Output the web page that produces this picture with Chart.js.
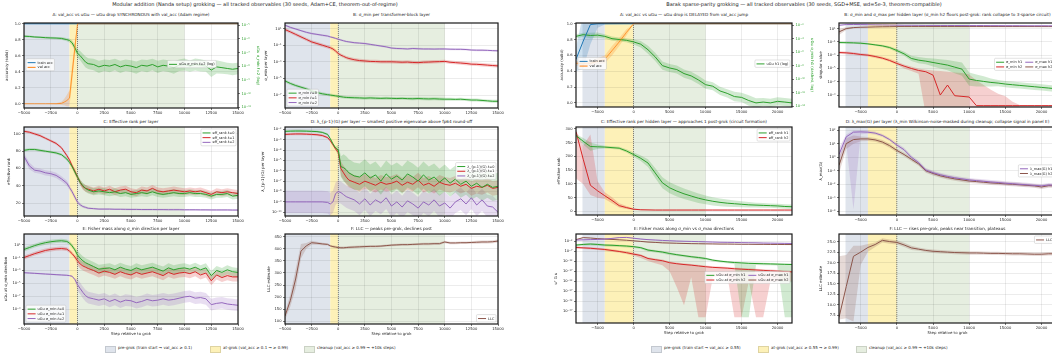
<!DOCTYPE html>
<html>
<head>
<meta charset="utf-8">
<script src="https://cdn.jsdelivr.net/npm/chart.js@4.4.1/dist/chart.umd.min.js"></script>
<style>
  body { margin: 0; width: 1052px; height: 362px; overflow: hidden; background: #fff; position: relative; color: #222; }
  canvas { position: absolute; }
  .lbl { position: absolute; white-space: nowrap; line-height: 1.2; font-family: 'DejaVu Sans', sans-serif; }
  .sw { position: absolute; width: 9px; height: 4.5px; border: 0.5px solid rgba(0,0,0,0.12); }
</style>
</head>
<body>
<script>
'use strict';

// ---------- data: modular addition (left block) ----------
const stepsL = [-5000,-4500,-4000,-3500,-3000,-2500,-2000,-1500,-1000,-750,-500,-250,0,250,500,750,1000,1500,2000,2500,3000,3500,4000,4500,5000,5500,6000,6500,7000,7500,8000,8500,9000,9500,10000,10500,11000,11500,12000,12500,13000,13500,14000,14500,15000];
const phaseEdgesL = [-5000, -750, 0, 10000];
const xTicksL = [-5000,-2500,0,2500,5000,7500,10000,12500,15000];

const accTrainStepsL = [-5000, 0, 15000];
const accTrainL = [1.0, 1.0, 1.0];
const accValStepsL = [-5000,-4000,-3000,-2000,-1500,-1250,-1000,-750,-500,-250,0,15000];
const accValL = [0.0,0.0,0.0,0.0,0.005,0.02,0.04,0.07,0.38,0.69,1.0,1.0];
const accValSdL = [0.0,0.0,0.0,0.005,0.02,0.04,0.07,0.1,0.12,0.08,0.0,0.0];
const uguL2 = [1.6e-6,1.53e-6,1.4e-6,1.34e-6,1.25e-6,1.2e-6,1.17e-6,1.1e-6,9.0e-7,7.8e-7,5.2e-7,2.3e-7,9.0e-8,6.0e-8,3.5e-8,2.05e-8,1.56e-8,1.36e-8,9.1e-9,1.19e-8,1.04e-8,1.36e-8,9.1e-9,1.19e-8,1.04e-8,8.0e-9,1.19e-8,1.04e-8,1.36e-8,9.1e-9,1.19e-8,1.04e-8,8.0e-9,1.19e-8,1.36e-8,1.04e-8,1.36e-8,1.19e-8,1.04e-8,5.3e-9,9.1e-9,8.0e-9,6.95e-9,6.1e-9,6.95e-9];
const uguL2F = [1.2,1.2,1.2,1.2,1.2,1.2,1.2,1.25,1.3,1.4,1.5,1.8,2,2.2,2.4,2.5,2.5,2.6,2.8,2.6,2.8,2.6,2.8,2.6,2.7,2.8,2.6,2.8,2.6,2.8,2.6,2.7,2.8,2.6,2.8,2.6,2.7,2.8,2.6,3.2,3.0,2.8,2.6,2.8,2.6];

const sigL0 = [5.0e-6,2.5e-6,1.41e-6,8.9e-7,5.6e-7,3.2e-7,2.0e-7,1.41e-7,1.12e-7,1.0e-7,8.9e-8,7.9e-8,7.1e-8,6.3e-8,5.6e-8,5.2e-8,5.0e-8,4.7e-8,4.5e-8,4.2e-8,4.5e-8,4.2e-8,4.0e-8,4.2e-8,4.0e-8,3.8e-8,4.0e-8,3.7e-8,3.55e-8,3.8e-8,3.55e-8,3.4e-8,3.55e-8,3.3e-8,3.16e-8,3.16e-8,3.0e-8,3.16e-8,2.8e-8,2.5e-8,2.5e-8,2.24e-8,2.0e-8,1.78e-8,1.78e-8];
const sigL1 = [7.6,4.0,2.0,1.0,0.5,0.25,0.158,0.1,0.063,0.05,0.035,0.02,0.01,6.3e-3,4.5e-3,3.2e-3,2.5e-3,1.78e-3,1.41e-3,1.26e-3,1.12e-3,1.07e-3,1.0e-3,1.0e-3,1.0e-3,9.5e-4,8.9e-4,9.3e-4,8.3e-4,7.9e-4,8.9e-4,9.3e-4,1.0e-3,1.05e-3,1.12e-3,8.9e-4,7.9e-4,7.1e-4,6.3e-4,5.2e-4,5.0e-4,4.5e-4,4.0e-4,3.55e-4,3.2e-4];
const sigL2 = [25.1,14.1,8.9,5.6,3.55,2.51,2.0,1.58,1.26,1.0,0.83,0.66,0.52,0.42,0.34,0.28,0.25,0.2,0.178,0.158,0.126,0.1,0.079,0.063,0.045,0.04,0.038,0.035,0.04,0.037,0.035,0.035,0.034,0.035,0.035,0.033,0.032,0.032,0.030,0.026,0.025,0.025,0.024,0.022,0.021];

const rankL0 = [81,82,82,81,80,79,78,76,71,67,62,56,50,44,40,37,35,33,34,33,32,33,31,32,30,31,32,31,33,31,30,31,32,31,31,32,31,31,30,28,30,30,31,28,29];
const rankL1 = [103,102,100,98,95,92,89,84,75,70,63,57,50,44,39,37,36,34,36,34,36,33,35,36,33,32,35,34,37,34,33,34,35,34,33,34,33,34,32,30,33,32,33,32,31];
const rankL2 = [74,63,58,57,55,54,52,48,43,38,33,27,21,18,16,15,14,13.5,13,13,13,12.8,12.8,12.7,12.6,12.6,12.5,12.5,12.5,12.4,12.4,12.3,12.3,12.3,12.2,12.2,12.2,12.1,12.1,12,12,12,12,11.9,11.9];
const rankSdL = [1.5,1.5,1.5,1.5,1.5,1.5,1.5,1.5,2,2,2.5,3,3,3,3.5,4,4,4,4,4,4,4,4,4,4,4,4,4,4,4,4,4,4,4,4,4,4,4,4,4,4,4,4,4,4];
const rankSdL2 = [4,4,3,3,3,3,3,3,3,3,3,3,2.5,2,1.5,1.5,1.2,1,1,1,1,1,1,1,1,1,1,1,1,1,1,1,1,1,1,1,1,1,1,1,1,1,1,1,1];

const lamL0 = [6.3e-3,6.6e-3,6.8e-3,6.8e-3,6.6e-3,6.3e-3,6.0e-3,5.0e-3,3.2e-3,1.26e-3,4.0e-4,1.58e-4,1.0e-4,2.5e-6,2.0e-6,1.26e-6,6.3e-7,3.2e-7,2.5e-7,6.3e-7,2.0e-7,4.0e-7,1.0e-7,5.0e-7,1.58e-7,3.2e-7,1.26e-7,5.0e-7,2.5e-7,1.0e-7,4.0e-7,1.26e-7,2.5e-7,7.9e-8,2.0e-7,6.3e-8,1.58e-7,5.0e-8,1.0e-7,3.2e-8,6.3e-8,2.5e-8,5.0e-8,2.5e-8,3.2e-8];
const lamL1 = [3.2e-3,3.4e-3,3.55e-3,3.55e-3,3.4e-3,3.2e-3,3.0e-3,2.5e-3,1.58e-3,7.9e-4,3.2e-4,1.26e-4,6.3e-5,1.58e-6,6.3e-7,2.5e-7,1.26e-7,7.9e-8,5.0e-8,1.0e-7,6.3e-8,4.0e-8,7.9e-8,5.0e-8,6.3e-8,1.0e-7,4.0e-8,7.9e-8,5.0e-8,1.26e-7,4.0e-8,6.3e-8,3.2e-8,7.9e-8,5.0e-8,4.0e-8,6.3e-8,3.2e-8,5.0e-8,2.0e-8,3.2e-8,2.5e-8,4.0e-8,2.0e-8,2.5e-8];
const lamL2 = [1e-9,1e-9,1e-9,1e-9,1e-9,1e-9,1e-9,1e-9,8.9e-10,6.3e-10,1.0e-9,6.3e-9,1.0e-8,7.9e-9,5.0e-9,3.2e-9,2.5e-9,1.58e-9,6.3e-10,2.0e-9,5.0e-10,1.58e-9,7.9e-10,2.5e-9,4.0e-10,1.0e-9,3.2e-10,1.26e-9,6.3e-10,2.5e-10,1.0e-9,5.0e-10,1.58e-9,4.0e-10,7.9e-10,2.5e-10,1.0e-9,2.0e-9,6.3e-10,2.5e-9,5.0e-10,1.58e-9,4.0e-10,3.2e-10,1.0e-10];
const lamL0F = [1.3,1.3,1.3,1.3,1.3,1.3,1.3,1.3,1.3,1.3,1.3,1.3,3,10,20,20,20,20,20,20,20,20,20,20,20,20,20,20,20,20,20,20,20,20,20,20,20,20,20,20,20,20,20,20,20];
const lamL1F = [1.3,1.3,1.3,1.3,1.3,1.3,1.3,1.3,1.3,1.3,1.3,1.3,2,5,5,5,5,5,5,5,5,5,5,5,5,5,5,5,5,5,5,5,5,5,5,5,5,5,5,5,5,5,5,5,5];

const uguEL0 = [1.78,3.55,7.1,12.6,20,28,35.5,40,31.6,17.8,6.3,1.58,0.25,0.079,0.032,0.0158,0.01,4.0e-3,1.58e-3,2.0e-3,2.5e-3,1.26e-3,3.2e-3,1.58e-3,1.0e-3,2.5e-3,1.26e-3,2.0e-3,3.2e-3,1.58e-3,7.9e-4,2.5e-3,1.26e-3,2.0e-3,2.5e-3,1.58e-3,3.2e-3,1.26e-3,2.5e-3,1.58e-4,1.0e-3,5.0e-4,1.26e-3,6.3e-4,5.0e-4];
const uguEL1 = [0.1,0.2,0.4,0.71,1.26,1.78,2.24,2.51,2.0,1.0,0.4,0.126,0.032,0.01,5.0e-3,3.2e-3,2.0e-3,1.0e-3,4.0e-4,7.9e-4,5.0e-4,2.5e-4,6.3e-4,3.2e-4,2.0e-4,5.0e-4,2.5e-4,4.0e-4,6.3e-4,3.2e-4,1.58e-4,5.0e-4,2.5e-4,4.0e-4,5.0e-4,3.2e-4,6.3e-4,2.0e-4,4.0e-4,2.5e-5,2.0e-4,7.9e-5,1.58e-4,1.0e-4,1.0e-4];
const uguEL2 = [4.5e-4,4.0e-4,3.55e-4,3.2e-4,2.8e-4,2.5e-4,2.24e-4,2.0e-4,1.78e-4,1.58e-4,1.26e-4,4.0e-5,6.3e-6,1.58e-6,4.0e-7,1.26e-7,6.3e-8,4.0e-8,2.5e-8,4.0e-8,1.58e-8,3.2e-8,1.26e-8,2.5e-8,2.0e-8,1.0e-8,1.58e-8,3.2e-8,2.0e-8,2.5e-8,4.0e-8,2.5e-8,3.2e-8,5.0e-8,7.9e-8,1.0e-7,5.0e-8,6.3e-8,4.0e-8,5.0e-9,7.9e-9,1.0e-8,6.3e-9,5.0e-9,4.0e-9];
const uguELF = [2,2,2,2,2,2,2,2,2,2,2,2,5,5,5,5,5,5,5,5,5,5,5,5,5,5,5,5,5,5,5,5,5,5,5,5,5,5,5,5,5,5,5,5,5];
const uguEL2F = [1.3,1.3,1.3,1.3,1.3,1.3,1.3,1.3,1.3,1.3,1.3,1.3,8,8,8,8,8,8,8,8,8,8,8,8,8,8,8,8,8,8,8,8,8,8,8,8,8,8,8,8,8,8,8,8,8];

const llcL = [122,186,275,390,412,425,423,420,418,412,409,407,405,404,404,405,406,407,408,409,410,410,411,413,415,416,417,417,418,419,420,420,421,421,428,424,424,425,425,426,427,428,428,429,432];
const llcSdL = [15,25,40,30,12,8,6,5,5,5,5,5,5,5,5,5,5,5,5,5,5,5,5,5,5,5,5,5,5,5,5,5,5,5,5,5,5,5,5,5,6,6,6,6,6];

// ---------- data: sparse parity (right block) ----------
const stepsR = [-8000,-7000,-6000,-5000,-4000,-3000,-2000,-1000,0,1000,2000,3000,4000,5000,6000,7000,8000,9000,10000,11000,12000,13000,14000,15000,16000,17000,18000,19000,20000,21000,22000];
const phaseEdgesR = [-7100, -4000, 0, 10000];
const xTicksR = [-5000,0,5000,10000,15000,20000];

const accTrainStepsR = [-8000,-7000,-6000,-5000,-4000,0,22000];
const accTrainR = [0.55,0.78,0.99,1.0,1.0,1.0,1.0];
const accTrainSdR = [0.15,0.35,0.25,0.05,0.01,0,0];
const accValStepsR = [-8000,-6000,-4000,-3000,-2000,-1000,0,22000];
const accValR = [0.5,0.5,0.55,0.66,0.77,0.89,1.0,1.0];
const accValSdR = [0.03,0.03,0.05,0.06,0.05,0.04,0,0];
const uguR1 = [2.3e-4,4.1e-4,3.1e-4,3.5e-4,2.3e-4,1.05e-4,7.9e-5,6.0e-5,3.5e-5,1.58e-5,2.4e-6,2.1e-7,1.07e-8,4.8e-9,2.8e-9,7.1e-10,3.2e-10,8.1e-11,1.6e-11,9.5e-12,1.9e-12,8.3e-13,2.8e-13,2.1e-13,7.2e-14,3.2e-14,4.3e-14,3.2e-14,5.5e-14,4.3e-14,3.2e-14];
const uguR1F = [2,2,2.5,2.5,2,2,2,2,2.5,3,4,4,4,4,4,4,4,4,4,4,4,4,5,5,6,5,4,4,4,4,4];

const sigMaxR1 = [31.6,39.8,41.7,39.8,38,36.3,35.5,33.9,33.1,31.6,31.6,30.9,30.2,30.2,29.5,29.5,28.8,28.8,28.2,28.2,28.2,27.5,27.5,26.9,26.9,26.9,26.3,26.3,26.3,25.7,25.7];
const sigMaxR2 = [3.16,10,14.1,15.8,16.6,17.8,18.6,19.1,20,20,20,20,20,20,20,20,20,20,20,20,20,20,20,20,20,20,20,20,20,20,20];
const sigMaxR2F = [3,1.6,1.3,1.2,1.2,1.2,1.2,1.2,1.2,1.2,1.2,1.2,1.2,1.2,1.2,1.2,1.2,1.2,1.2,1.2,1.2,1.2,1.2,1.2,1.2,1.2,1.2,1.2,1.2,1.2,1.2];
const sigMinR1 = [7.9e-2,7.6e-2,7.1e-2,6.3e-2,5.0e-2,3.55e-2,2.5e-2,1.41e-2,5.0e-3,1.58e-3,3.2e-4,1.78e-4,1.26e-4,7.9e-5,5.0e-5,3.2e-5,1.58e-5,7.9e-6,2.5e-7,1.58e-7,1.12e-7,7.9e-8,6.3e-8,4.5e-8,3.55e-8,2.8e-8,2.24e-8,1.78e-8,1.41e-8,1.12e-8,8.9e-9];
const sigMinR1F = [1.4,1.4,1.4,1.4,1.4,1.4,1.5,1.6,1.8,2,2.5,3,3,4,5,6,8,10,10,8,6,4,3,3,3,3,3,3,3,3,3];
const sigMinR2 = [2.5e-3,2.24e-3,1.78e-3,1.26e-3,1.0e-3,6.3e-4,3.55e-4,1.58e-4,5.6e-5,2.24e-5,1.0e-5,5.0e-6,3.2e-6,1.0e-6,1.0e-9,3.2e-8,7.9e-10,6.3e-10,5.0e-10,2.5e-11,2.5e-11,2.5e-11,2.5e-11,2.5e-11,2.5e-11,2.5e-11,2.5e-11,2.5e-11,2.5e-11,2.5e-11,2.5e-11];
const sigMinR2Hi = [4.0e-3,3.6e-3,2.8e-3,2.0e-3,1.6e-3,1.0e-3,5.6e-4,2.8e-4,1.1e-4,4.0e-5,2.0e-5,1.0e-5,6.3e-6,5.0e-6,4.0e-6,3.2e-6,2.5e-6,2.0e-6,1.26e-6,1.6e-7,3.2e-8,6.3e-9,1.6e-9,6.3e-10,1.0e-10,3.2e-11,3.2e-11,3.2e-11,3.2e-11,3.2e-11,3.2e-11];
const sigMinR2Lo = [1.6e-3,1.4e-3,1.1e-3,7.9e-4,6.3e-4,3.9e-4,2.2e-4,1.0e-4,3.5e-5,1.0e-5,4.0e-6,1.6e-6,1e-12,1e-12,1e-12,1e-12,1e-12,1e-12,1e-12,1e-12,1e-12,1e-12,1e-12,1e-12,1e-12,2.0e-11,2.0e-11,2.0e-11,2.0e-11,2.0e-11,2.0e-11];

const rankR1 = [276,255,236,235,234,232,230,220,207,193,176,140,104,86,74,64,56,48,42,37,33,30,28,26,24,23,22,21,20,18,17];
const rankR1Sd = [5,12,15,8,5,5,5,6,8,10,14,18,20,20,20,19,18,17,16,15,14,13,12,11,10,9,9,8,8,8,8];
const rankR2 = [290,190,95,75,57,40,21,14,8,6,5.5,5,5,5,5,5,5,5,5,5,5,5,5,5,5,5,5,5,5,5,5];
const rankR2Hi = [295,240,280,110,70,52,30,20,12,8,7,6,6,6,6,6,6,6,6,6,6,6,6,6,6,6,6,6,6,6,6];
const rankR2Lo = [120,100,60,50,45,30,14,9,5,4,4,4,4,4,4,4,4,4,4,4,4,4,4,4,4,4,4,4,4,4,4];

const lamMaxR1 = [1.58,31.6,70.8,74,70.8,60,39.8,20,7.9,3.55,1.0,0.4,0.112,0.071,0.05,0.038,0.030,0.025,0.021,0.0186,0.0166,0.0148,0.0135,0.012,0.011,0.01,0.0091,0.0083,0.0076,0.0089,0.0083];
const lamMaxR1Up = [3,1.5,1.3,1.3,1.3,1.3,1.3,1.3,1.4,1.4,1.4,1.4,1.4,1.4,1.4,1.4,1.4,1.4,1.4,1.4,1.4,1.4,1.4,1.4,1.4,1.4,1.4,1.4,1.4,1.4,1.4];
const lamMaxR1Down = [3,3,5e5,1.5,1.3,1.3,1.3,1.3,1.4,1.4,1.4,1.4,1.4,1.4,1.4,1.4,1.4,1.4,1.4,1.4,1.4,1.4,1.4,1.4,1.4,1.4,1.4,1.4,1.4,1.4,1.4];
const lamMaxR2 = [0.25,10,20,22.4,22.4,19,13.2,7.1,3.16,1.58,0.71,0.32,0.1,0.063,0.042,0.032,0.025,0.021,0.0174,0.0158,0.0141,0.0126,0.0117,0.0107,0.01,0.0091,0.0083,0.0076,0.0063,0.0079,0.0076];
const lamMaxR2F = [4,2.5,2,1.5,1.4,1.4,1.4,1.4,1.4,1.4,1.4,1.4,1.4,1.4,1.4,1.4,1.4,1.4,1.4,1.4,1.4,1.4,1.4,1.4,1.4,1.4,1.4,1.4,1.4,1.4,1.4];

const uguMaxR1 = [0.0316,0.04,0.05,0.063,0.1,0.2,0.5,0.63,0.25,0.1,0.05,0.0316,0.02,0.0141,0.01,7.9e-3,6.3e-3,5.0e-3,4.0e-3,3.16e-3,2.5e-3,2.24e-3,2.0e-3,1.58e-3,1.41e-3,1.26e-3,1.0e-3,8.9e-4,7.9e-4,7.1e-4,6.3e-4];
const uguMaxR2 = [0.05,0.5,0.316,0.158,0.1,0.063,0.04,0.025,0.0126,6.3e-3,3.16e-3,2.0e-3,1.26e-3,1.0e-3,7.9e-4,6.3e-4,5.0e-4,4.5e-4,4.0e-4,3.55e-4,3.16e-4,3.16e-4,2.8e-4,2.5e-4,2.5e-4,2.24e-4,2.24e-4,2.0e-4,2.0e-4,1.78e-4,1.78e-4];
const uguMinR1 = [1.0e-4,2.0e-4,3.2e-4,2.0e-4,1.0e-4,7.9e-5,5.0e-5,3.2e-5,1.58e-5,5.0e-6,3.2e-7,1.0e-7,3.2e-8,6.3e-9,1.58e-9,5.0e-10,1.58e-10,6.3e-11,2.0e-11,3.2e-12,1.0e-12,4.0e-13,2.0e-13,1.26e-13,7.9e-14,6.3e-14,5.0e-14,4.0e-14,3.2e-14,2.5e-14,2.0e-14];
const uguMinR1Lo = [2e-5,4e-5,6.3e-5,4e-5,2e-5,1.6e-5,1e-5,6.3e-6,3.2e-6,1e-6,6.3e-8,2e-8,6.3e-9,1.26e-9,3.2e-10,1e-10,3.2e-11,1.26e-11,4e-12,6.3e-13,2e-13,8e-14,4e-14,1e-40,1e-40,1.26e-14,1e-14,8e-15,6.3e-15,1e-40,1e-40];
const uguMinR2 = [6.3e-6,4.0e-6,2.5e-6,1.26e-6,6.3e-7,2.0e-7,6.3e-8,1.58e-8,3.2e-9,6.3e-10,2.0e-11,5.0e-12,1.58e-12,1.58e-13,5.0e-14,2.0e-14,1.0e-14,4.0e-15,1.58e-15,7.9e-16,5.0e-16,3.2e-16,1.58e-16,1.0e-16,6.3e-17,4.0e-17,2.5e-17,1.58e-17,1.0e-17,6.3e-18,4.0e-18];
const uguMinR2Lo = [1.58e-6,1.0e-6,6.3e-7,3.2e-7,1.58e-7,5.0e-8,1.58e-8,3.2e-9,5.0e-10,3.2e-11,1e-12,1e-13,1e-14,1e-17,1e-25,1e-34,1e-20,1e-40,1e-40,1e-20,1e-19,1e-19,1e-40,1e-40,1e-22,1e-40,1e-40,1e-22,1e-22,1e-22,1e-22];

const llcR = [7.0,14.3,21.5,22.5,23.6,24.3,25.3,25.0,24.8,24.2,23.5,23.2,22.9,22.7,22.6,22.5,22.4,22.35,22.3,22.3,22.25,22.2,22.2,22.15,22.1,22.1,22.05,22.0,22.0,22.1,22.1];
const llcRUp = [14.5,7.5,2.5,1.5,0.8,0.5,0.5,0.5,0.5,0.5,0.5,0.4,0.4,0.4,0.4,0.4,0.4,0.4,0.4,0.4,0.4,0.4,0.4,0.4,0.4,0.4,0.4,0.4,0.4,0.4,0.4];
const llcRDown = [0.5,7.5,15.5,3,1,0.6,0.5,0.5,0.5,0.5,0.5,0.4,0.4,0.4,0.4,0.4,0.4,0.4,0.4,0.4,0.4,0.4,0.4,0.4,0.4,0.4,0.4,0.4,0.4,0.4,0.4];

// ---------- tick labels ----------
const accTicks = [0, 0.2, 0.4, 0.6, 0.8, 1.0];
const uguTicksL = [1e-5, 1e-6, 1e-7, 1e-8, 1e-9, 1e-10, 1e-11];
const sigTicksL = [1e1, 1e-1, 1e-3, 1e-5, 1e-7];
const rankTicksL = [20, 40, 60, 80, 100];
const lamTicksL = [1e-2, 1e-3, 1e-4, 1e-5, 1e-6, 1e-7, 1e-8, 1e-9, 1e-10];
const uguETicksL = [1e1, 1e-1, 1e-3, 1e-5, 1e-7, 1e-9];
const llcTicksL = [100, 150, 200, 250, 300, 350, 400, 450];
const uguTicksR = [1e-2, 1e-4, 1e-6, 1e-8, 1e-10, 1e-12, 1e-14];
const sigTicksR = [1e1, 1e-1, 1e-3, 1e-5, 1e-7, 1e-9];
const rankTicksR = [0, 50, 100, 150, 200, 250, 300];
const lamTicksR = [1e2, 1e1, 1e0, 1e-1, 1e-2, 1e-3, 1e-4];
const uguETicksR = [1e-2, 1e-7, 1e-12, 1e-17, 1e-22, 1e-27, 1e-32, 1e-37];
const llcTicksR = [7.5, 10, 12.5, 15, 17.5, 20, 22.5, 25];

// ---------- styling ----------
const FONT = 'DejaVu Sans';
const C = {blue: '#1f77b4', orange: '#ff7f0e', green: '#2ca02c', red: '#d62728', purple: '#9467bd', brown: '#8c564b'};
const PHASE = ['#dfe4ec', '#fdf1b8', '#e6eee0'];

Chart.defaults.font.family = FONT;
Chart.defaults.font.size = 3.7;
Chart.defaults.color = '#222';
Chart.defaults.animation = false;
Chart.defaults.events = [];

function rgba(hex, a) {
  const n = parseInt(hex.slice(1), 16);
  return `rgba(${n >> 16},${(n >> 8) & 255},${n & 255},${a})`;
}
const SUP = {'-': '\u207b', '0': '\u2070', '1': '\u00b9', '2': '\u00b2', '3': '\u00b3', '4': '\u2074', '5': '\u2075', '6': '\u2076', '7': '\u2077', '8': '\u2078', '9': '\u2079'};
const fPow = v => '10' + String(Math.round(Math.log10(v))).split('').map(c => SUP[c]).join('');
const f1 = v => v.toFixed(1);
const fInt = v => String(v);
const fX = v => (v < 0 ? '\u2212' : '') + Math.abs(v);

// shaded grok phases + dotted line at the grok step
const phasePlugin = {
  id: 'phases',
  beforeDraw(chart, args, o) {
    if (!o.edges) return;
    const {ctx, chartArea: a, scales: {x}} = chart;
    ctx.save();
    for (let i = 0; i < 3; i++) {
      const x0 = Math.max(a.left, x.getPixelForValue(o.edges[i]));
      const x1 = Math.min(a.right, x.getPixelForValue(o.edges[i + 1]));
      ctx.fillStyle = PHASE[i];
      ctx.fillRect(x0, a.top, x1 - x0, a.bottom - a.top);
    }
    ctx.restore();
  },
  beforeDatasetsDraw(chart, args, o) {
    if (!o.edges) return;
    const {ctx, chartArea: a, scales: {x}} = chart;
    const px = x.getPixelForValue(0);
    ctx.save();
    ctx.strokeStyle = '#555';
    ctx.lineWidth = 0.7;
    ctx.setLineDash([1, 1]);
    ctx.beginPath();
    ctx.moveTo(px, a.top);
    ctx.lineTo(px, a.bottom);
    ctx.stroke();
    ctx.restore();
  }
};

// axes frame drawn like matplotlib spines
const framePlugin = {
  id: 'frame',
  afterDatasetsDraw(chart) {
    const {ctx, chartArea: a} = chart;
    ctx.save();
    ctx.strokeStyle = '#1a1a1a';
    ctx.lineWidth = 1.2;
    ctx.strokeRect(a.left, a.top, a.right - a.left, a.bottom - a.top);
    ctx.restore();
  }
};

// legend boxes placed inside the axes
const boxLegend = {
  id: 'boxLegend',
  afterDraw(chart, args, o) {
    (o.list || []).forEach(L => drawLegend(chart, L));
  }
};

function drawLegend(chart, L) {
  const ctx = chart.ctx, a = chart.chartArea;
  const fs = 3.5, rowH = 4.7, sw = 8, gap = 2, pad = 1.6, colGap = 3, m = 2;
  ctx.save();
  ctx.font = fs + 'px "' + FONT + '"';
  const cols = L.cols || 1, rows = Math.ceil(L.items.length / cols);
  const colW = [];
  for (let c = 0; c < cols; c++) {
    let w = 0;
    for (let r = 0; r < rows; r++) {
      const it = L.items[c * rows + r];
      if (it) w = Math.max(w, ctx.measureText(it[0]).width);
    }
    colW.push(sw + gap + w);
  }
  const bw = colW.reduce((s, v) => s + v, 0) + colGap * (cols - 1) + pad * 2;
  const bh = rows * rowH + pad * 2 - 0.5;
  const pos = L.pos || 'ul';
  let bx, by;
  if (L.fx !== undefined) bx = a.left + L.fx * (a.right - a.left);
  else bx = pos.includes('r') ? a.right - m - bw : a.left + m;
  if (L.fy !== undefined) by = a.top + L.fy * (a.bottom - a.top);
  else if (pos[0] === 'u') by = a.top + m;
  else if (pos[0] === 'l') by = a.bottom - m - bh;
  else by = (a.top + a.bottom) / 2 - bh / 2;
  ctx.fillStyle = 'rgba(255,255,255,0.8)';
  ctx.strokeStyle = 'rgba(190,190,190,0.9)';
  ctx.lineWidth = 0.5;
  ctx.beginPath();
  ctx.roundRect(bx, by, bw, bh, 1);
  ctx.fill();
  ctx.stroke();
  ctx.textBaseline = 'middle';
  let cx = bx + pad;
  for (let c = 0; c < cols; c++) {
    for (let r = 0; r < rows; r++) {
      const it = L.items[c * rows + r];
      if (!it) continue;
      const y = by + pad + r * rowH + rowH / 2;
      ctx.strokeStyle = it[1];
      ctx.lineWidth = 1;
      ctx.beginPath();
      ctx.moveTo(cx, y);
      ctx.lineTo(cx + sw, y);
      ctx.stroke();
      ctx.fillStyle = '#222';
      ctx.fillText(it[0], cx + sw + gap, y + 0.2);
    }
    cx += colW[c] + colGap;
  }
  ctx.restore();
}

Chart.register(phasePlugin, framePlugin, boxLegend);

function seriesSets(s, log) {
  const at = (a, i) => Array.isArray(a) ? a[i] : a;
  const pts = arr => s.x.map((x, i) => ({x, y: arr[i]}));
  const axis = s.axis || 'y';
  const out = [];
  if (s.up !== undefined || s.hi) {
    const dn = s.down !== undefined ? s.down : s.up;
    const hi = s.hi || s.y.map((v, i) => log ? v * at(s.up, i) : v + at(s.up, i));
    const lo = s.lo || s.y.map((v, i) => log ? v / at(dn, i) : v - at(dn, i));
    out.push({data: pts(hi), yAxisID: axis, borderWidth: 0, pointRadius: 0, fill: false, order: 10});
    out.push({data: pts(lo), yAxisID: axis, borderWidth: 0, pointRadius: 0, fill: '-1',
              backgroundColor: rgba(s.color, 0.22), order: 10});
  }
  out.push({label: s.label, data: pts(s.y), yAxisID: axis, borderColor: rgba(s.color, s.alpha || 1),
            borderWidth: 1, pointRadius: 0, fill: false, tension: 0, order: s.z !== undefined ? s.z : 2});
  return out;
}

function text(str, x, y, size, center, color) {
  const d = document.createElement('div');
  d.className = 'lbl';
  d.textContent = str;
  d.style.fontSize = size + 'px';
  d.style.top = (y - size * 0.6) + 'px';
  d.style.left = x + 'px';
  if (center) d.style.transform = 'translateX(-50%)';
  if (color) d.style.color = color;
  document.body.appendChild(d);
}

function yAxis(cfg, pos, width) {
  const col = cfg.color || '#222';
  return {
    type: cfg.type || 'linear', position: pos, min: cfg.min, max: cfg.max,
    afterBuildTicks: s => { s.ticks = cfg.ticks.map(v => ({value: v})); },
    afterFit: s => { s.width = width; s.paddingTop = 0; s.paddingBottom = 0; },
    ticks: {callback: cfg.fmt || fPow, color: col, padding: 1.5, autoSkip: false},
    grid: {drawOnChartArea: pos === 'left', color: 'rgba(0,0,0,0.13)', lineWidth: 0.6,
           tickLength: 2, tickColor: '#222', tickWidth: 0.6},
    border: {display: false},
    title: {display: true, text: cfg.title, color: col, font: {size: 3.9}, padding: {top: 1, bottom: 0}}
  };
}

function makePanel(p) {
  const g = p.grp === 'L'
    ? {edges: phaseEdgesL, xmin: -5000, xmax: 15000, xt: xTicksL}
    : {edges: phaseEdgesR, xmin: -8000, xmax: 22000, xt: xTicksR};
  const padT = 3;
  const padL = Math.round(p.left - (p.titleX - 3.3));
  const padR = p.y2 ? Math.round(p.y2.titleX + 3.3 - (p.left + p.w)) : 9;
  const padB = p.xTitle ? 13 : 8;
  const W = padL + p.w + padR, H = padT + p.h + padB;
  const cv = document.createElement('canvas');
  cv.width = W;
  cv.height = H;
  cv.style.left = (p.left - padL) + 'px';
  cv.style.top = (p.top - padT) + 'px';
  document.body.appendChild(cv);

  const scales = {
    x: {
      type: 'linear', min: g.xmin, max: g.xmax,
      afterBuildTicks: s => { s.ticks = g.xt.map(v => ({value: v})); },
      afterFit: s => { s.height = padB; s.paddingLeft = 0; s.paddingRight = 0; },
      ticks: {callback: fX, padding: 1, maxRotation: 0, minRotation: 0, autoSkip: false},
      grid: {color: 'rgba(0,0,0,0.13)', lineWidth: 0.6, tickLength: 2, tickColor: '#222', tickWidth: 0.6},
      border: {display: false},
      title: {display: !!p.xTitle, text: p.xTitle, font: {size: 3.9}, padding: {top: 0, bottom: 0.5}}
    },
    y: yAxis(p.y, 'left', padL)
  };
  if (p.y2) scales.y2 = yAxis(p.y2, 'right', padR);

  const datasets = [];
  p.series.forEach(s => {
    const ax = s.axis === 'y2' ? p.y2 : p.y;
    datasets.push(...seriesSets(s, ax.type === 'logarithmic'));
  });
  const legends = (p.legends || []).map(L => Object.assign({}, L, {
    items: L.keys.map(k => [p.series[k].label, p.series[k].color])
  }));

  new Chart(cv, {
    type: 'line',
    data: {datasets},
    options: {
      responsive: false,
      layout: {padding: {top: padT, right: p.y2 ? 0 : padR, left: 0, bottom: 0}},
      scales,
      plugins: {
        legend: {display: false},
        tooltip: {enabled: false},
        phases: {edges: g.edges},
        boxLegend: {list: legends}
      }
    }
  });
  text(p.title, p.left + p.w / 2, p.titleY, 4.2, true);
}

const LOG = 'logarithmic';
const PANELS = [
  // ---- left block ----
  {grp: 'L', left: 24, top: 23, w: 214, h: 85, titleX: 7, titleY: 14.7,
   title: 'A: val_acc vs uGu \u2014 uGu drop SYNCHRONOUS with val_acc (Adam regime)',
   y: {min: -0.053, max: 1.01, ticks: accTicks, fmt: f1, title: 'accuracy (solid)'},
   y2: {type: LOG, min: 10 ** -11.05, max: 10 ** -4.83, ticks: uguTicksL, title: 'uGu \u03c3_min \u2113=2 (log)', color: C.green, titleX: 258},
   series: [
     {label: 'val acc', color: C.orange, x: accValStepsL, y: accValL, up: accValSdL, z: 0, alpha: 0.75},
     {label: 'train acc', color: C.blue, x: accTrainStepsL, y: accTrainL, z: 1},
     {label: 'uGu \u03c3_min \u2113=2 (log)', color: C.green, x: stepsL, y: uguL2, up: uguL2F, axis: 'y2'}
   ],
   legends: [{keys: [1, 0], pos: 'cl', fy: 0.42}, {keys: [2], fx: 0.67, fy: 0.44}]},
  {grp: 'L', left: 285, top: 23, w: 213, h: 85, titleX: 266.7, titleY: 14.7,
   title: 'B: \u03c3_min per transformer-block layer',
   y: {type: LOG, min: 10 ** -8.56, max: 10 ** 1.67, ticks: sigTicksL, title: '\u03c3_min per layer'},
   series: [
     {label: '\u03c3_min \u2113=0', color: C.green, x: stepsL, y: sigL0, up: 1.5},
     {label: '\u03c3_min \u2113=1', color: C.red, x: stepsL, y: sigL1, up: 1.6},
     {label: '\u03c3_min \u2113=2', color: C.purple, x: stepsL, y: sigL2, up: 1.3}
   ],
   legends: [{keys: [0, 1, 2], pos: 'll'}]},
  {grp: 'L', left: 24, top: 127, w: 214, h: 89, titleX: 9.3, titleY: 121.7,
   title: 'C: Effective rank per layer',
   y: {min: 5, max: 108, ticks: rankTicksL, fmt: fInt, title: 'effective rank'},
   series: [
     {label: 'eff_rank \u2113=0', color: C.green, x: stepsL, y: rankL0, up: rankSdL},
     {label: 'eff_rank \u2113=1', color: C.red, x: stepsL, y: rankL1, up: rankSdL},
     {label: 'eff_rank \u2113=2', color: C.purple, x: stepsL, y: rankL2, up: rankSdL2}
   ],
   legends: [{keys: [0, 1, 2], pos: 'ur'}]},
  {grp: 'L', left: 285, top: 127, w: 213, h: 89, titleX: 263, titleY: 121.7,
   title: 'D: \u03bb_{p-1}(G) per layer \u2014 smallest positive eigenvalue above fp64 round-off',
   y: {type: LOG, min: 10 ** -10.36, max: 10 ** -1.78, ticks: lamTicksL, title: '\u03bb_{p-1}(G) per layer'},
   series: [
     {label: '\u03bb_{p-1}(G) \u2113=0', color: C.green, x: stepsL, y: lamL0, up: lamL0F},
     {label: '\u03bb_{p-1}(G) \u2113=1', color: C.red, x: stepsL, y: lamL1, up: lamL1F},
     {label: '\u03bb_{p-1}(G) \u2113=2', color: C.purple, x: stepsL, y: lamL2, up: 12}
   ],
   legends: [{keys: [0, 1, 2], pos: 'cr', fy: 0.40}]},
  {grp: 'L', left: 24, top: 234, w: 214, h: 90, titleX: 6.7, titleY: 229, xTitle: 'Step relative to grok',
   title: 'E: Fisher mass along \u03c3_min direction per layer',
   y: {type: LOG, min: 10 ** -11.3, max: 10 ** 2.65, ticks: uguETicksL, title: 'uGu at \u03c3_min direction'},
   series: [
     {label: 'uGu \u03c3_min \u2113=0', color: C.green, x: stepsL, y: uguEL0, up: uguELF},
     {label: 'uGu \u03c3_min \u2113=1', color: C.red, x: stepsL, y: uguEL1, up: uguELF},
     {label: 'uGu \u03c3_min \u2113=2', color: C.purple, x: stepsL, y: uguEL2, up: uguEL2F}
   ],
   legends: [{keys: [0, 1, 2], pos: 'll'}]},
  {grp: 'L', left: 285, top: 234, w: 213, h: 90, titleX: 269, titleY: 229, xTitle: 'Step relative to grok',
   title: 'F: LLC \u2014 peaks pre-grok, declines post',
   y: {min: 89, max: 461, ticks: llcTicksL, fmt: fInt, title: 'LLC estimate'},
   series: [{label: 'LLC', color: C.brown, x: stepsL, y: llcL, up: llcSdL}],
   legends: [{keys: [0], pos: 'lr'}]},

  // ---- right block ----
  {grp: 'R', left: 576, top: 23, w: 216, h: 84, titleX: 562, titleY: 15,
   title: 'A: val_acc vs uGu \u2014 uGu drop is DELAYED from val_acc jump',
   y: {min: -0.053, max: 1.01, ticks: accTicks, fmt: f1, title: 'accuracy (solid)'},
   y2: {type: LOG, min: 10 ** -14.1, max: 10 ** -1.66, ticks: uguTicksR, title: 'uGu \u03c3_min h1 (dashed, log)', color: C.green, titleX: 812},
   series: [
     {label: 'val acc', color: C.orange, x: accValStepsR, y: accValR, up: accValSdR, z: 0, alpha: 0.75},
     {label: 'train acc', color: C.blue, x: accTrainStepsR, y: accTrainR, up: accTrainSdR, z: 1},
     {label: 'uGu h1 (log)', color: C.green, x: stepsR, y: uguR1, up: uguR1F, axis: 'y2'}
   ],
   legends: [{keys: [1, 0], pos: 'cl', fy: 0.41}, {keys: [2], pos: 'cr', fy: 0.44}]},
  {grp: 'R', left: 839, top: 23, w: 217, h: 84, titleX: 821, titleY: 15,
   title: 'B: \u03c3_min and \u03c3_max per hidden layer (\u03c3_min h2 floors post-grok: rank collapse to 3-sparse circuit)',
   y: {type: LOG, min: 10 ** -10.8, max: 10 ** 1.84, ticks: sigTicksR, title: 'singular value'},
   series: [
     {label: '\u03c3_min h1', color: C.green, x: stepsR, y: sigMinR1, up: sigMinR1F},
     {label: '\u03c3_min h2', color: C.red, x: stepsR, y: sigMinR2, hi: sigMinR2Hi, lo: sigMinR2Lo},
     {label: '\u03c3_max h1', color: C.purple, x: stepsR, y: sigMaxR1, up: 1.1},
     {label: '\u03c3_max h2', color: C.brown, x: stepsR, y: sigMaxR2, up: sigMaxR2F}
   ],
   legends: [{keys: [0, 1, 2, 3], cols: 2, pos: 'cr', fy: 0.42}]},
  {grp: 'R', left: 576, top: 127, w: 216, h: 88, titleX: 559, titleY: 121.7,
   title: 'C: Effective rank per hidden layer \u2014 approaches 1 post-grok (circuit formation)',
   y: {min: -13, max: 307, ticks: rankTicksR, fmt: fInt, title: 'effective rank'},
   series: [
     {label: 'eff_rank h1', color: C.green, x: stepsR, y: rankR1, up: rankR1Sd},
     {label: 'eff_rank h2', color: C.red, x: stepsR, y: rankR2, hi: rankR2Hi, lo: rankR2Lo}
   ],
   legends: [{keys: [0, 1], pos: 'ur'}]},
  {grp: 'R', left: 839, top: 127, w: 217, h: 88, titleX: 821, titleY: 121.7,
   title: 'D: \u03bb_max(G) per layer (\u03bb_min Wilkinson-noise-masked during cleanup; collapse signal in panel E)',
   y: {type: LOG, min: 10 ** -4.27, max: 10 ** 2.23, ticks: lamTicksR, title: '\u03bb_max(G)'},
   series: [
     {label: '\u03bb_max(G) h1', color: C.purple, x: stepsR, y: lamMaxR1, up: lamMaxR1Up, down: lamMaxR1Down},
     {label: '\u03bb_max(G) h2', color: C.brown, x: stepsR, y: lamMaxR2, up: lamMaxR2F}
   ],
   legends: [{keys: [0, 1], pos: 'cr', fy: 0.43}]},
  {grp: 'R', left: 576, top: 234, w: 216, h: 89, titleX: 556.7, titleY: 229, xTitle: 'Step relative to grok',
   title: 'E: Fisher mass along \u03c3_min vs \u03c3_max directions',
   y: {type: LOG, min: 10 ** -42.8, max: 10 ** 1.5, ticks: uguETicksR, title: 'u\u1d40 G u'},
   series: [
     {label: 'uGu at \u03c3_min h1', color: C.green, x: stepsR, y: uguMinR1, up: 3, lo: uguMinR1Lo},
     {label: 'uGu at \u03c3_min h2', color: C.red, x: stepsR, y: uguMinR2, up: 4, lo: uguMinR2Lo},
     {label: 'uGu at \u03c3_max h1', color: C.purple, x: stepsR, y: uguMaxR1, up: 1.5},
     {label: 'uGu at \u03c3_max h2', color: C.brown, x: stepsR, y: uguMaxR2, up: 1.5}
   ],
   legends: [{keys: [0, 1, 2, 3], cols: 2, pos: 'cr', fy: 0.42}]},
  {grp: 'R', left: 839, top: 234, w: 217, h: 89, titleX: 821, titleY: 229, xTitle: 'Step relative to grok',
   title: 'F: LLC \u2014 rises pre-grok, peaks near transition, plateaus',
   y: {min: 5.67, max: 26.8, ticks: llcTicksR, fmt: f1, title: 'LLC estimate'},
   series: [{label: 'LLC', color: C.brown, x: stepsR, y: llcR, up: llcRUp, down: llcRDown}],
   legends: [{keys: [0], pos: 'ur'}]}
];

PANELS.forEach(makePanel);

// figure titles
text('Modular addition (Nanda setup) grokking \u2014 all tracked observables (30 seeds, Adam+CE, theorem-out-of-regime)', 255, 4, 5.0, true);
text('Barak sparse-parity grokking \u2014 all tracked observables (30 seeds, SGD+MSE, wd=5e-3, theorem-compatible)', 804, 4, 5.0, true);

// phase legends under each block
function phaseKey(x, label, i) {
  const d = document.createElement('div');
  d.className = 'sw';
  d.style.left = x + 'px';
  d.style.top = '346px';
  d.style.background = PHASE[i];
  document.body.appendChild(d);
  text(label, x + 13, 348.5, 4, false);
}
phaseKey(105, 'pre-grok  (train start \u2192 val_acc \u2265 0.1)', 0);
phaseKey(210, 'at-grok  (val_acc \u2265 0.1 \u2192 \u2265 0.99)', 1);
phaseKey(304, 'cleanup  (val_acc \u2265 0.99 \u2192 +10k steps)', 2);
phaseKey(651, 'pre-grok  (train start \u2192 val_acc \u2265 0.55)', 0);
phaseKey(758, 'at-grok  (val_acc \u2265 0.55 \u2192 \u2265 0.99)', 1);
phaseKey(856, 'cleanup  (val_acc \u2265 0.99 \u2192 +10k steps)', 2);
</script>
</body>
</html>
